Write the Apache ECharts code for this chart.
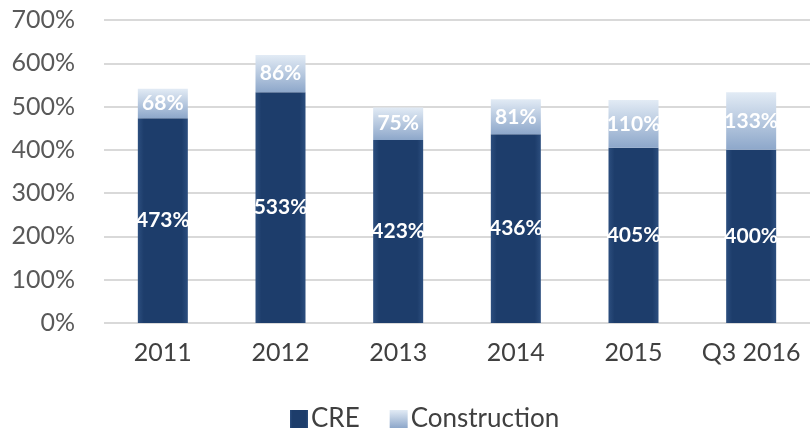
<!DOCTYPE html>
<html>
<head>
<meta charset="utf-8">
<script src="https://cdn.jsdelivr.net/npm/echarts@6/dist/echarts.min.js"></script>
<style>
  html, body { margin: 0; padding: 0; background: #fff; }
  #chart { width: 810px; height: 432px; }
</style>
</head>
<body>
<div id="chart"></div>
<script>
const categories = ["2011", "2012", "2013", "2014", "2015", "Q3 2016"];
const creValues = [473, 533, 423, 436, 405, 400];
const constructionValues = [68, 86, 75, 81, 110, 133];
const yTicks = [0, 100, 200, 300, 400, 500, 600, 700];

const font = "Lato, 'Open Sans', sans-serif";

const creColor = new echarts.graphic.LinearGradient(0, 0, 1, 0, [
  { offset: 0, color: "#2c4e7e" },
  { offset: 0.12, color: "#1d3d6b" },
  { offset: 0.88, color: "#1d3d6b" },
  { offset: 1, color: "#2c4e7e" }
]);
const constructionColor = new echarts.graphic.LinearGradient(0, 0, 0, 1, [
  { offset: 0, color: "#e2ebf5" },
  { offset: 1, color: "#8da7ca" }
]);

const chart = echarts.init(document.getElementById("chart"));
chart.setOption({
  backgroundColor: "#fff",
  animation: false,
  grid: { left: 104, right: -4, top: 20, bottom: 109 },
  legend: {
    top: 401,
    left: 285,
    itemWidth: 18,
    itemHeight: 18,
    itemGap: 30,
    icon: "rect",
    textStyle: { fontFamily: font, fontSize: 26, color: "#404040", padding: [0, 0, 0, -2] },
    data: ["CRE", "Construction"]
  },
  xAxis: {
    type: "category",
    data: categories,
    axisLine: { show: false },
    axisTick: { show: false },
    axisLabel: { fontFamily: font, fontSize: 25, color: "#404040", margin: 17, interval: 0 }
  },
  yAxis: {
    type: "value",
    min: yTicks[0],
    max: yTicks[yTicks.length - 1],
    interval: 100,
    axisLine: { show: false },
    axisTick: { show: false },
    splitLine: { lineStyle: { color: "#d9d9d9", width: 2 } },
    axisLabel: {
      fontFamily: font, fontSize: 25, color: "#595959", margin: 29,
      formatter: v => v + "%"
    }
  },
  series: [
    {
      name: "CRE",
      type: "bar",
      stack: "total",
      barWidth: 50,
      data: creValues,
      itemStyle: { color: creColor },
      label: {
        show: true, position: "inside", formatter: "{c}%",
        color: "#fff", fontFamily: font, fontSize: 21, fontWeight: "bold"
      }
    },
    {
      name: "Construction",
      type: "bar",
      stack: "total",
      barWidth: 50,
      data: constructionValues,
      itemStyle: { color: constructionColor },
      label: {
        show: true, position: "inside", formatter: "{c}%",
        color: "#fff", fontFamily: font, fontSize: 21, fontWeight: "bold"
      }
    }
  ]
});
</script>
</body>
</html>
